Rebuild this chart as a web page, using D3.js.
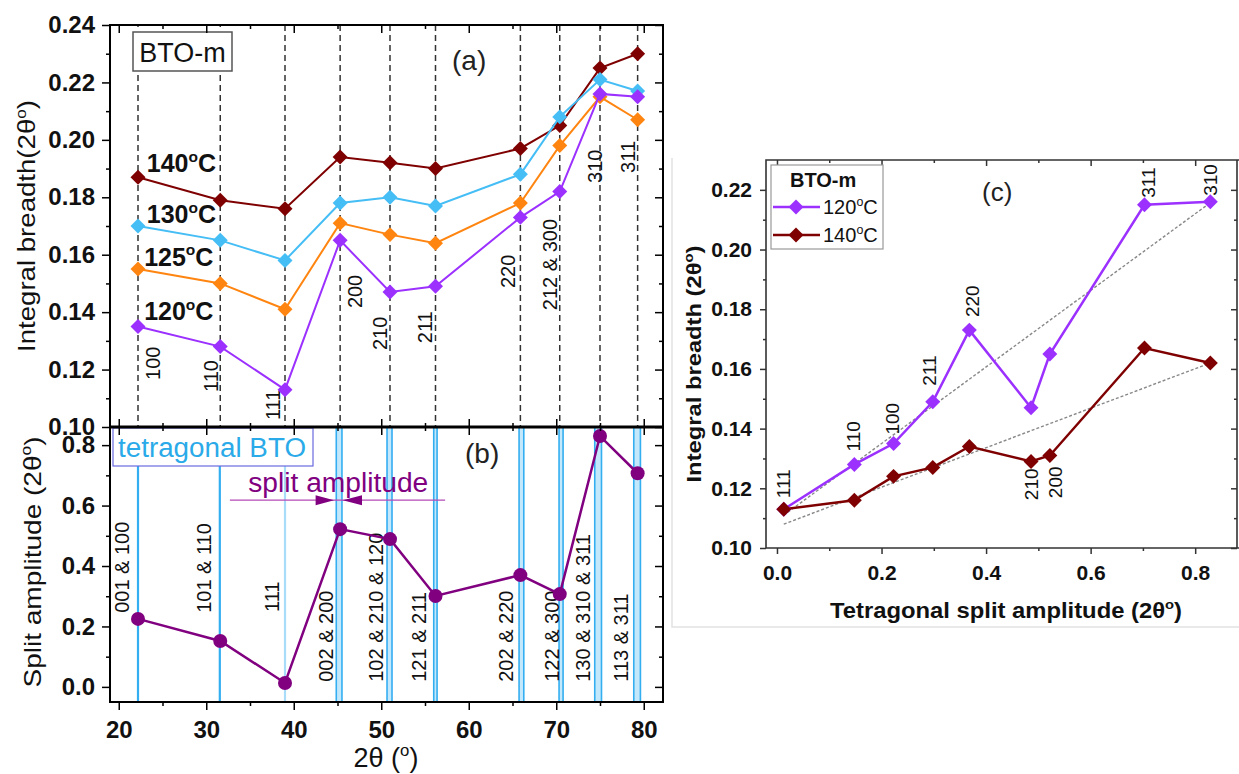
<!DOCTYPE html>
<html>
<meta charset="utf-8">
<head>
<title>BTO-m integral breadth and split amplitude</title>
<script src="https://cdnjs.cloudflare.com/ajax/libs/d3/7.8.5/d3.min.js"></script>
<style>
  body { margin: 0; background: #fff; }
  text { font-family: "Liberation Sans", Arial, sans-serif; }
</style>
</head>
<body>
<script>

// ---- panel (a): integral breadth per cubic reflection ----
const peakPos = [22.2, 31.6, 39.0, 45.3, 51.0, 56.2, 65.9, 70.4, 75.0, 79.3];
const cubicHkl = ["100", "110", "111", "200", "210", "211", "220", "212 & 300", "310", "311"];
const ib120 = [0.135, 0.128, 0.113, 0.165, 0.147, 0.149, 0.173, 0.182, 0.216, 0.215];
const ib125 = [0.155, 0.150, 0.141, 0.171, 0.167, 0.164, 0.178, 0.198, 0.215, 0.207];
const ib130 = [0.170, 0.165, 0.158, 0.178, 0.180, 0.177, 0.188, 0.208, 0.221, 0.217];
const ib140 = [0.187, 0.179, 0.176, 0.194, 0.192, 0.190, 0.197, 0.205, 0.225, 0.230];

// ---- panel (b): tetragonal split amplitude ----
const splitAmp = [0.225, 0.152, 0.013, 0.522, 0.489, 0.301, 0.370, 0.307, 0.830, 0.707];
const tetraHkl = ["001 & 100", "101 & 110", "111", "002 & 200", "102 & 210 & 120",
                  "121 & 211", "202 & 220", "122 & 300", "130 & 310 & 311", "113 & 311"];
const tetraLines = [[22.2], [31.55], [39.0], [44.86, 45.51], [50.66, 51.23], [56.0, 56.38],
                    [65.75, 66.29], [70.32, 70.78], [74.4, 75.17], [78.86, 79.62]];

// ---- panel (c): integral breadth vs split amplitude ----
const cHkl = ["111", "110", "100", "211", "220", "210", "200", "311", "310"];
const cSplit = [0.013, 0.148, 0.223, 0.298, 0.368, 0.486, 0.522, 0.703, 0.829];
const c120 = [0.113, 0.128, 0.135, 0.149, 0.173, 0.147, 0.165, 0.215, 0.216];
const c140 = [0.113, 0.116, 0.124, 0.127, 0.134, 0.129, 0.131, 0.167, 0.162];
const fitX = [0.013, 0.829];
const fit120 = [0.111, 0.2157];
const fit140 = [0.108, 0.162];

// tick values
const xTicks = [20, 30, 40, 50, 60, 70, 80];
const xMinor = [25, 35, 45, 55, 65, 75];
const yATicks = [0.10, 0.12, 0.14, 0.16, 0.18, 0.20, 0.22, 0.24];
const yAMinor = [0.11, 0.13, 0.15, 0.17, 0.19, 0.21, 0.23];
const yBTicks = [0.0, 0.2, 0.4, 0.6, 0.8];
const yBMinor = [0.1, 0.3, 0.5, 0.7];
const xCTicks = [0.0, 0.2, 0.4, 0.6, 0.8];
const xCMinor = [0.1, 0.3, 0.5, 0.7];
const yCTicks = [0.10, 0.12, 0.14, 0.16, 0.18, 0.20, 0.22];
const yCMinor = [0.11, 0.13, 0.15, 0.17, 0.19, 0.21];

const col120 = "#9b30ff", col125 = "#ff8510", col130 = "#45bdf5", col140 = "#7f0000";
const colSplit = "#800080", colTetra = "#33aef0";

const width = 1239, height = 774;
const svg = d3.select("body").append("svg")
    .attr("width", width)
    .attr("height", height);

const x = d3.scaleLinear().domain([19, 82.2]).range([110, 663]);
const yA = d3.scaleLinear().domain([0.10, 0.24]).range([427, 25]);
const yB = d3.scaleLinear().domain([-0.05, 0.86]).range([702, 427]);
const xC = d3.scaleLinear().domain([-0.021, 0.88]).range([766, 1237]);
const yC = d3.scaleLinear().domain([0.10, 0.23]).range([548, 160]);

const diamond = d3.symbol().type(d3.symbolSquare).size(112);

// superscript "o" as used for degrees
function supO(t, pre, post, fs) {
    t.append("tspan").text(pre);
    t.append("tspan").text("o").attr("font-size", fs * 0.62).attr("dy", -fs * 0.42);
    t.append("tspan").text(post).attr("dy", fs * 0.42);
    return t;
}

function ticks(at, make, scale, major, minor, len, opts = {}) {
    const g = svg.append("g").attr("transform", at);
    g.append("g").call(make(scale).tickValues(major).tickSize(len).tickSizeOuter(0)
        .tickPadding(opts.pad || 3).tickFormat(opts.fmt || (() => "")));
    g.append("g").call(make(scale).tickValues(minor).tickSize(len / 2).tickSizeOuter(0)
        .tickFormat(() => ""));
    g.selectAll(".domain").remove();
    g.selectAll(".tick line").attr("stroke", opts.color || "#000").attr("stroke-width", 1.5);
    g.selectAll(".tick text")
        .attr("font-family", "Liberation Sans, Arial, sans-serif")
        .attr("font-size", opts.fs || 24)
        .attr("font-weight", "bold")
        .attr("fill", "#111");
    return g;
}

// ================= panel (a) =================
svg.append("g").selectAll("line")
    .data(peakPos)
    .join("line")
    .attr("x1", d => x(d)).attr("x2", d => x(d))
    .attr("y1", yA(0.24)).attr("y2", yA(0.10))
    .attr("stroke", "#333")
    .attr("stroke-width", 1.5)
    .attr("stroke-dasharray", "6,4");

// reflection labels, [dx px, bottom value]
const cubicLabelPos = [[15, 0.1164], [-9, 0.1122], [-12, 0.1024], [15, 0.1414], [-10, 0.1268],
                       [-11, 0.1292], [-13, 0.1484], [-10, 0.1407], [-5, 0.1850], [-10, 0.1885]];
svg.append("g").selectAll("text")
    .data(cubicHkl)
    .join("text")
    .attr("transform", (d, i) => `translate(${x(peakPos[i]) + cubicLabelPos[i][0]},${yA(cubicLabelPos[i][1])}) rotate(-90)`)
    .attr("dy", "0.36em")
    .attr("font-size", 20)
    .attr("fill", "#111")
    .text(d => d);

const seriesA = [
    { t: "140", v: ib140, c: col140, lx: 23.2, ly: 0.1888 },
    { t: "125", v: ib125, c: col125, lx: 22.9, ly: 0.1561 },
    { t: "130", v: ib130, c: col130, lx: 23.2, ly: 0.1710 },
    { t: "120", v: ib120, c: col120, lx: 22.9, ly: 0.1372 }
];
const lineA = d3.line().x((d, i) => x(peakPos[i])).y(d => yA(d));
seriesA.forEach(s => {
    svg.append("path")
        .attr("d", lineA(s.v))
        .attr("fill", "none")
        .attr("stroke", s.c)
        .attr("stroke-width", 2);
    svg.append("g").selectAll("path")
        .data(s.v)
        .join("path")
        .attr("d", diamond)
        .attr("transform", (d, i) => `translate(${x(peakPos[i])},${yA(d)}) rotate(45)`)
        .attr("fill", s.c);
});
seriesA.forEach(s => {
    const t = svg.append("text")
        .attr("x", x(s.lx)).attr("y", yA(s.ly))
        .attr("font-size", 25).attr("font-weight", "bold").attr("fill", "#111");
    supO(t, s.t, "C", 25);
});

// BTO-m box
svg.append("rect").attr("x", 133).attr("y", 27).attr("width", 99).attr("height", 44)
    .attr("fill", "#fff").attr("stroke", "none");
svg.append("rect").attr("x", 133).attr("y", 32).attr("width", 99).attr("height", 39)
    .attr("fill", "#fff").attr("stroke", "#555").attr("stroke-width", 1.5);
svg.append("text").attr("x", 182.5).attr("y", 52).attr("dy", "0.36em")
    .attr("text-anchor", "middle").attr("font-size", 27).attr("fill", "#111").text("BTO-m");
svg.append("text").attr("x", 452).attr("y", 70).attr("font-size", 28).attr("fill", "#222").text("(a)");

// ================= panel (b) =================
const bandG = svg.append("g");
tetraLines.forEach((p, i) => {
    if (p.length === 2) {
        bandG.append("rect")
            .attr("x", x(p[0])).attr("width", x(p[1]) - x(p[0]))
            .attr("y", 427).attr("height", 275)
            .attr("fill", "#c4e8fb");
    }
    p.forEach(v => {
        bandG.append("line")
            .attr("x1", x(v)).attr("x2", x(v))
            .attr("y1", 427).attr("y2", 702)
            .attr("stroke", i === 2 ? "#a8dcf8" : colTetra)
            .attr("stroke-width", p.length === 2 ? 1.6 : 2.2);
    });
});

const tetraLabelPos = [[-16, 0.245], [-16, 0.245], [-13, 0.248], [-13, 0.017], [-14, 0.017],
                       [-18, 0.017], [-16, 0.017], [-10, 0.017], [-15, 0.017], [-16, 0.017]];
svg.append("g").selectAll("text")
    .data(tetraHkl)
    .join("text")
    .attr("transform", (d, i) => `translate(${x(tetraLines[i][0]) + (tetraLines[i].length === 2 ? 3 : 0) + tetraLabelPos[i][0]},${yB(tetraLabelPos[i][1])}) rotate(-90)`)
    .attr("dy", "0.36em")
    .attr("font-size", 20)
    .attr("fill", "#111")
    .text(d => d);

const lineB = d3.line().x((d, i) => x(peakPos[i])).y(d => yB(d));
svg.append("path")
    .attr("d", lineB(splitAmp))
    .attr("fill", "none")
    .attr("stroke", colSplit)
    .attr("stroke-width", 2.5);
svg.append("g").selectAll("circle")
    .data(splitAmp)
    .join("circle")
    .attr("cx", (d, i) => x(peakPos[i]))
    .attr("cy", d => yB(d))
    .attr("r", 7)
    .attr("fill", colSplit);

// tetragonal BTO box
svg.append("rect").attr("x", 113).attr("y", 428).attr("width", 200).attr("height", 38)
    .attr("fill", "#fff").attr("stroke", "#6a6ae0").attr("stroke-width", 1.2);
svg.append("text").attr("x", 118).attr("y", 447).attr("dy", "0.36em")
    .attr("font-size", 27).attr("fill", "#2aaae8")
    .attr("textLength", 188).attr("lengthAdjust", "spacingAndGlyphs")
    .text("tetragonal BTO");

// split amplitude annotation (positions in 2θ units)
const arrowY = 0.618;
svg.append("text").attr("x", x(34.8)).attr("y", 482).attr("dy", "0.36em")
    .attr("font-size", 27).attr("fill", colSplit)
    .attr("textLength", 180).attr("lengthAdjust", "spacingAndGlyphs")
    .text("split amplitude");
svg.append("line")
    .attr("x1", x(32.7)).attr("x2", x(57.3))
    .attr("y1", yB(arrowY)).attr("y2", yB(arrowY))
    .attr("stroke", "#b44ab4").attr("stroke-width", 1.2);
svg.append("path")
    .attr("d", `M${x(44.6)},${yB(arrowY)} L${x(42.5)},${yB(arrowY) - 5} L${x(42.5)},${yB(arrowY) + 5}Z
                M${x(45.6)},${yB(arrowY)} L${x(47.8)},${yB(arrowY) - 5} L${x(47.8)},${yB(arrowY) + 5}Z`)
    .attr("fill", colSplit);

svg.append("text").attr("x", 465).attr("y", 463).attr("font-size", 28).attr("fill", "#222").text("(b)");

// ---- axes (a)+(b) ----
const fmt2 = d3.format(".2f"), fmt1 = d3.format(".1f");
ticks("translate(110,0)", d3.axisLeft, yA, yATicks, yAMinor, 8, { pad: 7, fmt: fmt2 });
ticks("translate(663,0)", d3.axisRight, yA, yATicks, yAMinor, -8);
ticks("translate(0,25)", d3.axisTop, x, xTicks, xMinor, -8);
ticks("translate(0,427)", d3.axisBottom, x, xTicks, xMinor, -8);
ticks("translate(0,427)", d3.axisTop, x, xTicks, xMinor, -8);
ticks("translate(110,0)", d3.axisLeft, yB, yBTicks, yBMinor, 8, { pad: 7, fmt: fmt1 });
ticks("translate(663,0)", d3.axisRight, yB, yBTicks, yBMinor, -8);
ticks("translate(0,702)", d3.axisBottom, x, xTicks, xMinor, 8, { pad: 11, fmt: d3.format("d") });

svg.append("rect").attr("x", 110).attr("y", 25).attr("width", 553).attr("height", 677)
    .attr("fill", "none").attr("stroke", "#000").attr("stroke-width", 2);
svg.append("line").attr("x1", 110).attr("x2", 663).attr("y1", 427).attr("y2", 427)
    .attr("stroke", "#000").attr("stroke-width", 2.8);

svg.append("text")
    .attr("transform", "translate(27,226) rotate(-90)")
    .attr("dy", "0.36em")
    .attr("text-anchor", "middle")
    .attr("font-size", 23).attr("fill", "#111")
    .attr("textLength", 252).attr("lengthAdjust", "spacingAndGlyphs")
    .call(t => supO(t, "Integral breadth(2θ", ")", 23));
svg.append("text")
    .attr("transform", "translate(32,562) rotate(-90)")
    .attr("dy", "0.36em")
    .attr("text-anchor", "middle")
    .attr("font-size", 24).attr("fill", "#111")
    .attr("textLength", 251).attr("lengthAdjust", "spacingAndGlyphs")
    .call(t => supO(t, "Split amplitude (2θ", ")", 24));
svg.append("text")
    .attr("x", 386).attr("y", 767)
    .attr("text-anchor", "middle")
    .attr("font-size", 27).attr("fill", "#111")
    .call(t => supO(t, "2θ (", ")", 27));

// ================= panel (c) =================
svg.append("path")
    .attr("d", "M672,158 L672,627 L1239,627")
    .attr("fill", "none").attr("stroke", "#e2e2e2").attr("stroke-width", 1.5);

const fitLine = d3.line().x((d, i) => xC(fitX[i])).y(d => yC(d));
[fit120, fit140].forEach(f => {
    svg.append("path")
        .attr("d", fitLine(f))
        .attr("fill", "none")
        .attr("stroke", "#888")
        .attr("stroke-width", 1.4)
        .attr("stroke-dasharray", "3,2");
});

const lineC = d3.line().x((d, i) => xC(cSplit[i])).y(d => yC(d));
[[c140, col140], [c120, col120]].forEach(([v, c]) => {
    svg.append("path")
        .attr("d", lineC(v))
        .attr("fill", "none")
        .attr("stroke", c)
        .attr("stroke-width", 2.5);
});
[[c120, col120], [c140, col140]].forEach(([v, c]) => {
    svg.append("g").selectAll("path")
        .data(v)
        .join("path")
        .attr("d", diamond)
        .attr("transform", (d, i) => `translate(${xC(cSplit[i])},${yC(d)}) rotate(45)`)
        .attr("fill", c);
});

// reflection labels in (c): [dx px, gap px, above 120 (1) or below 140 (-1)]
const cLabelPos = [[-1, 11, 1], [-1, 13, 1], [-1, 9, 1], [-4, 16, 1], [3, 13, 1],
                   [0, 7, -1], [5, 11, -1], [4, 7, 1], [0, 6, 1]];
svg.append("g").selectAll("text")
    .data(cHkl)
    .join("text")
    .attr("transform", (d, i) => {
        const p = cLabelPos[i];
        const yy = p[2] === 1 ? yC(c120[i]) - p[1] : yC(c140[i]) + p[1];
        return `translate(${xC(cSplit[i]) + p[0]},${yy}) rotate(-90)`;
    })
    .attr("text-anchor", (d, i) => cLabelPos[i][2] === 1 ? "start" : "end")
    .attr("dy", "0.36em")
    .attr("font-size", 19)
    .attr("fill", "#111")
    .text(d => d);

// axes (c)
ticks("translate(766,0)", d3.axisLeft, yC, yCTicks, yCMinor, 6, { pad: 8, fmt: fmt2, fs: 21, color: "#333" });
ticks("translate(1237,0)", d3.axisRight, yC, yCTicks, yCMinor, -6, { color: "#333" });
ticks("translate(0,160)", d3.axisTop, xC, xCTicks, xCMinor, -6, { color: "#333" });
ticks("translate(0,548)", d3.axisBottom, xC, xCTicks, xCMinor, 6, { pad: 11, fmt: fmt1, fs: 21, color: "#333" });
svg.append("path")
    .attr("d", "M1239,160 L766,160 L766,548 L1239,548 M1237,160 L1237,548")
    .attr("fill", "none").attr("stroke", "#333").attr("stroke-width", 1.6);

// legend (c)
svg.append("rect").attr("x", 771).attr("y", 165).attr("width", 112).attr("height", 84)
    .attr("fill", "#fff").attr("stroke", "#999").attr("stroke-width", 1.2);
svg.append("text").attr("x", 790).attr("y", 180).attr("dy", "0.36em")
    .attr("font-size", 20).attr("font-weight", "bold").attr("fill", "#111").text("BTO-m");
const legendItems = [["120", col120], ["140", col140]];
legendItems.forEach(([t, c], i) => {
    const yy = 207 + i * 28;
    svg.append("line").attr("x1", 773).attr("x2", 820).attr("y1", yy).attr("y2", yy)
        .attr("stroke", c).attr("stroke-width", 2.5);
    svg.append("path").attr("d", diamond).attr("transform", `translate(796,${yy}) rotate(45)`).attr("fill", c);
    const tx = svg.append("text").attr("x", 823).attr("y", yy + 7)
        .attr("font-size", 20).attr("fill", "#111");
    supO(tx, t, "C", 20);
});

svg.append("text").attr("x", 982).attr("y", 201).attr("font-size", 26).attr("fill", "#222").text("(c)");

svg.append("text")
    .attr("transform", "translate(694,364) rotate(-90)")
    .attr("dy", "0.36em")
    .attr("text-anchor", "middle")
    .attr("font-size", 20).attr("font-weight", "bold").attr("fill", "#111")
    .attr("textLength", 237).attr("lengthAdjust", "spacingAndGlyphs")
    .call(t => supO(t, "Integral breadth (2θ", ")", 20));
svg.append("text")
    .attr("x", 1006).attr("y", 618)
    .attr("text-anchor", "middle")
    .attr("font-size", 22).attr("font-weight", "bold").attr("fill", "#111")
    .attr("textLength", 352).attr("lengthAdjust", "spacingAndGlyphs")
    .call(t => supO(t, "Tetragonal split amplitude (2θ", ")", 22));

</script>
</body>
</html>
